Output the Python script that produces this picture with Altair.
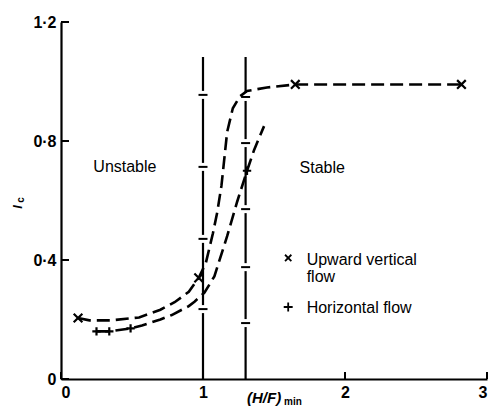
import altair as alt
import pandas as pd

# Data points
vert_x = [0.12, 0.97, 1.65, 2.82]
vert_y = [0.205, 0.34, 0.99, 0.99]
horiz_x = [0.25, 0.34, 0.49, 1.31]
horiz_y = [0.16, 0.16, 0.17, 0.70]

# Dashed curves
upper_x = [0.12, 0.2, 0.35, 0.55, 0.7, 0.8, 0.9, 0.97, 1.02, 1.07, 1.1, 1.13, 1.17, 1.21, 1.26, 1.31, 1.45, 1.65, 2.82]
upper_y = [0.205, 0.197, 0.197, 0.207, 0.233, 0.258, 0.293, 0.34, 0.39, 0.49, 0.56, 0.65, 0.83, 0.91, 0.95, 0.968, 0.98, 0.99, 0.99]
lower_x = [0.25, 0.34, 0.49, 0.57, 0.7, 0.78, 0.9, 0.94, 1.01, 1.08, 1.17, 1.24, 1.31, 1.36, 1.43]
lower_y = [0.16, 0.16, 0.17, 0.18, 0.2, 0.215, 0.245, 0.26, 0.29, 0.345, 0.48, 0.595, 0.70, 0.77, 0.85]

# Range bars
bar_x = [1.0, 1.3]
bar_top = [1.082, 1.082]
bar1_ticks = [0.235, 0.471, 0.713, 0.955]
bar2_ticks = [0.188, 0.376, 0.571, 0.793, 0.948]

x_ticks = [0, 1, 2, 3]
y_ticks = [0, 0.4, 0.8, 1.2]

FONT = "Liberation Sans"
W, H = 426, 357

xs = alt.Scale(domain=[0, 3], nice=False)
ys = alt.Scale(domain=[0, 1.2], nice=False)

X_PATH = "M-1,-1L1,1M-1,1L1,-1"
P_PATH = "M-1,0L1,0M0,-1L0,1"

df_up = pd.DataFrame({"x": upper_x, "y": upper_y})
df_lo = pd.DataFrame({"x": lower_x, "y": lower_y})
df_v = pd.DataFrame({"x": vert_x, "y": vert_y})
df_h = pd.DataFrame({"x": horiz_x, "y": horiz_y})
df_bars = pd.DataFrame({"x": bar_x, "y0": [0, 0], "y1": bar_top})
df_bt = pd.DataFrame({"x": [1.0] * len(bar1_ticks) + [1.3] * len(bar2_ticks),
                      "y": bar1_ticks + bar2_ticks})

xax = alt.Axis(values=x_ticks, format="d", grid=False, ticks=False, domainColor="black",
               domainWidth=2.2, labelFont=FONT, labelFontSize=16, labelFontWeight="bold",
               labelColor="black", labelPadding=5, title=None)
yax = alt.Axis(values=y_ticks, grid=False, ticks=False, domainColor="black", domainWidth=2.2,
               labelFont=FONT, labelFontSize=16, labelFontWeight="bold", labelColor="black",
               labelPadding=5, title=None,
               labelExpr="datum.value == 0 ? '0' : replace(format(datum.value, '.1f'), '.', '·')")

axes = alt.Chart(pd.DataFrame({"x": [0, 3], "y": [0, 1.2]})).mark_point(opacity=0).encode(
    x=alt.X("x:Q", scale=xs, axis=xax), y=alt.Y("y:Q", scale=ys, axis=yax))

xt = alt.Chart(pd.DataFrame({"x": x_ticks})).mark_rule(color="black", strokeWidth=2).encode(
    x=alt.X("x:Q", scale=xs), y=alt.value(H), y2=alt.value(H - 7))
yt = alt.Chart(pd.DataFrame({"y": y_ticks})).mark_rule(color="black", strokeWidth=2).encode(
    y=alt.Y("y:Q", scale=ys), x=alt.value(0), x2=alt.value(8))

dash = [13, 6]
up = alt.Chart(df_up).mark_line(color="black", strokeWidth=2.6, strokeDash=dash).encode(
    x=alt.X("x:Q", scale=xs), y=alt.Y("y:Q", scale=ys))
lo = alt.Chart(df_lo).mark_line(color="black", strokeWidth=2.6, strokeDash=dash).encode(
    x=alt.X("x:Q", scale=xs), y=alt.Y("y:Q", scale=ys))

bars = alt.Chart(df_bars).mark_rule(color="black", strokeWidth=2.2).encode(
    x=alt.X("x:Q", scale=xs), y=alt.Y("y0:Q", scale=ys), y2="y1:Q")
bgap = alt.Chart(df_bt).mark_tick(color="white", orient="vertical", size=8, thickness=5, opacity=1).encode(
    x=alt.X("x:Q", scale=xs), y=alt.Y("y:Q", scale=ys))
bticks = alt.Chart(df_bt).mark_tick(color="black", orient="horizontal", size=9, thickness=2, opacity=1).encode(
    x=alt.X("x:Q", scale=xs), y=alt.Y("y:Q", scale=ys))

pv = alt.Chart(df_v).mark_point(shape=X_PATH, color="black", filled=False, strokeWidth=2.2, size=75, opacity=1).encode(
    x=alt.X("x:Q", scale=xs), y=alt.Y("y:Q", scale=ys))
ph = alt.Chart(df_h).mark_point(shape=P_PATH, color="black", filled=False, strokeWidth=2.2, size=70, opacity=1).encode(
    x=alt.X("x:Q", scale=xs), y=alt.Y("y:Q", scale=ys))

# Legend
leg_v = alt.Chart(pd.DataFrame({"x": [1.60], "y": [0.407]})).mark_point(
    shape=X_PATH, color="black", filled=False, strokeWidth=1.8, size=40, opacity=1).encode(
    x=alt.X("x:Q", scale=xs), y=alt.Y("y:Q", scale=ys))
leg_h = alt.Chart(pd.DataFrame({"x": [1.60], "y": [0.242]})).mark_point(
    shape=P_PATH, color="black", filled=False, strokeWidth=1.8, size=80, opacity=1).encode(
    x=alt.X("x:Q", scale=xs), y=alt.Y("y:Q", scale=ys))


def label(txt, x, y, size=16, align="left"):
    return alt.Chart(pd.DataFrame({"t": [txt]})).mark_text(
        font=FONT, fontSize=size, align=align, baseline="middle", color="black").encode(
        x=alt.datum(x, scale=xs), y=alt.datum(y, scale=ys), text="t:N")


texts = [
    label("Unstable", 0.45, 0.713, align="center"),
    label("Stable", 1.84, 0.71, align="center"),
    label("Upward vertical", 1.73, 0.40),
    label("flow", 1.73, 0.343),
    label("Horizontal flow", 1.73, 0.239),
]

xtitle1 = alt.Chart(pd.DataFrame({"t": ["(H/F)"]})).mark_text(
    font=FONT, fontSize=15, fontStyle="italic", fontWeight="bold", align="left",
    baseline="bottom", color="black").encode(x=alt.datum(1.31, scale=xs), y=alt.value(H + 27), text="t:N")
xtitle2 = alt.Chart(pd.DataFrame({"t": ["min"]})).mark_text(
    font=FONT, fontSize=10, fontWeight="bold", align="left", dx=37,
    baseline="bottom", color="black").encode(x=alt.datum(1.31, scale=xs), y=alt.value(H + 28), text="t:N")
ytitle1 = alt.Chart(pd.DataFrame({"t": ["I"]})).mark_text(
    font=FONT, fontSize=13, fontStyle="italic", fontWeight="bold", angle=270, align="center",
    baseline="middle", color="black").encode(x=alt.value(-43), y=alt.value(185), text="t:N")
ytitle2 = alt.Chart(pd.DataFrame({"t": ["c"]})).mark_text(
    font=FONT, fontSize=10, fontWeight="bold", angle=270, align="center",
    baseline="middle", color="black").encode(x=alt.value(-40), y=alt.value(178), text="t:N")

chart = alt.layer(axes, xt, yt, bars, bgap, bticks, up, lo, pv, ph, leg_v, leg_h, *texts,
                  xtitle1, xtitle2, ytitle1, ytitle2).properties(
    width=W, height=H, padding={"left": 53, "top": 14, "right": 5, "bottom": 28},
    autosize=alt.AutoSizeParams(type="none"), background="white"
).configure_view(stroke=None)

chart.save("out.html", embed_options={"renderer": "svg", "actions": False})
